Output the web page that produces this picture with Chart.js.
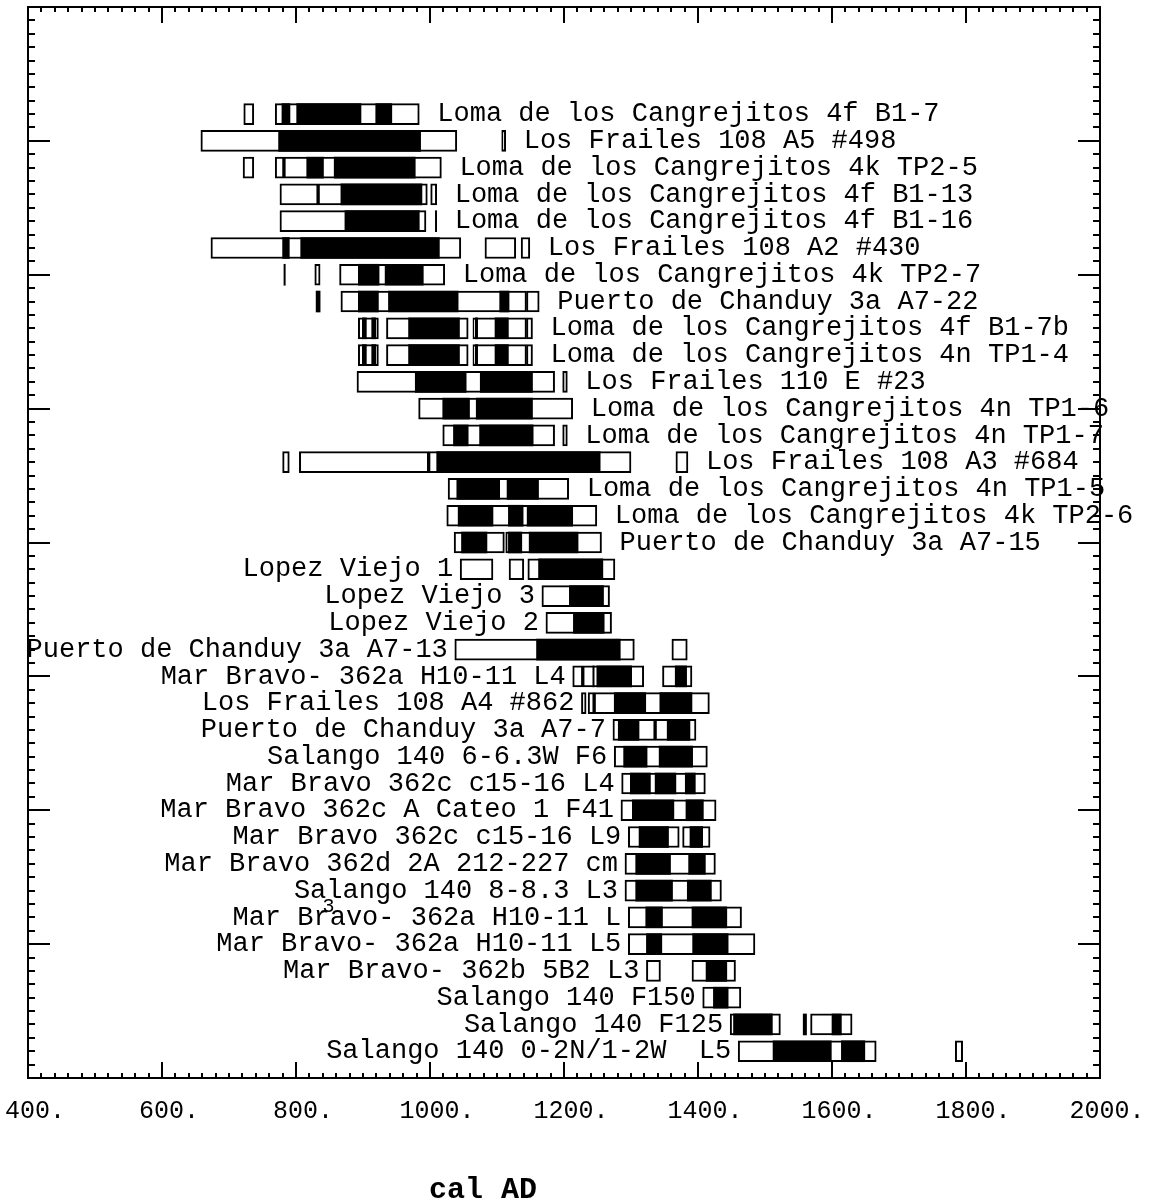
<!DOCTYPE html>
<html>
<head>
<meta charset="utf-8">
<script src="https://cdn.jsdelivr.net/npm/chart.js@4.4.1/dist/chart.umd.min.js"></script>
<style>
  html, body { margin: 0; padding: 0; background: #fff; }
  #wrap { width: 1160px; height: 1201px; position: relative; }
</style>
</head>
<body>
<div id="wrap"><canvas id="dates"></canvas></div>
<script>
// Sample names, top to bottom
const samples = [
    'Loma de los Cangrejitos 4f B1-7',
    'Los Frailes 108 A5 #498',
    'Loma de los Cangrejitos 4k TP2-5',
    'Loma de los Cangrejitos 4f B1-13',
    'Loma de los Cangrejitos 4f B1-16',
    'Los Frailes 108 A2 #430',
    'Loma de los Cangrejitos 4k TP2-7',
    'Puerto de Chanduy 3a A7-22',
    'Loma de los Cangrejitos 4f B1-7b',
    'Loma de los Cangrejitos 4n TP1-4',
    'Los Frailes 110 E #23',
    'Loma de los Cangrejitos 4n TP1-6',
    'Loma de los Cangrejitos 4n TP1-7',
    'Los Frailes 108 A3 #684',
    'Loma de los Cangrejitos 4n TP1-5',
    'Loma de los Cangrejitos 4k TP2-6',
    'Puerto de Chanduy 3a A7-15',
    'Lopez Viejo 1',
    'Lopez Viejo 3',
    'Lopez Viejo 2',
    'Puerto de Chanduy 3a A7-13',
    'Mar Bravo- 362a H10-11 L4',
    'Los Frailes 108 A4 #862',
    'Puerto de Chanduy 3a A7-7',
    'Salango 140 6-6.3W F6',
    'Mar Bravo 362c c15-16 L4',
    'Mar Bravo 362c A Cateo 1 F41',
    'Mar Bravo 362c c15-16 L9',
    'Mar Bravo 362d 2A 212-227 cm',
    'Salango 140 8-8.3 L3',
    'Mar Bravo- 362a H10-11 L',
    'Mar Bravo- 362a H10-11 L5',
    'Mar Bravo- 362b 5B2 L3',
    'Salango 140 F150',
    'Salango 140 F125',
    'Salango 140 0-2N/1-2W  L5'
];

// 2-sigma ranges (open boxes), cal AD
const range2 = [
    [[722, 737], [769, 984]],
    [[658, 1040], [1107, 1113]],
    [[721, 737], [769, 782], [782, 1017]],
    [[776, 833], [833, 996], [1001, 1010]],
    [[776, 994]],
    [[673, 1046], [1082, 1128], [1136, 1149]],
    [[828, 836], [865, 1022]],
    [[867, 1144], [1144, 1163]],
    [[893, 923], [935, 1057], [1064, 1069], [1069, 1144], [1144, 1153]],
    [[893, 923], [935, 1057], [1064, 1069], [1069, 1144], [1144, 1153]],
    [[891, 1186], [1198, 1205]],
    [[983, 1213]],
    [[1019, 1186], [1198, 1205]],
    [[780, 790], [805, 998], [998, 1300], [1367, 1385]],
    [[1027, 1207]],
    [[1025, 1249]],
    [[1036, 1111], [1113, 1256]],
    [[1045, 1094], [1118, 1140], [1146, 1276]],
    [[1167, 1268]],
    [[1173, 1271]],
    [[1037, 1305], [1361, 1384]],
    [[1213, 1228], [1228, 1319], [1347, 1391]],
    [[1226, 1233], [1236, 1245], [1245, 1417]],
    [[1273, 1336], [1336, 1397]],
    [[1275, 1414]],
    [[1286, 1411]],
    [[1285, 1427]],
    [[1296, 1372], [1377, 1418]],
    [[1291, 1426]],
    [[1291, 1435]],
    [[1296, 1465]],
    [[1296, 1485]],
    [[1323, 1344], [1391, 1456]],
    [[1407, 1464]],
    [[1448, 1523], [1568, 1630]],
    [[1460, 1666], [1784, 1795]]
];

// 1-sigma ranges (filled boxes), cal AD
const range1 = [
    [[779, 791], [801, 897], [919, 943]],
    [[774, 986]],
    [[816, 841], [857, 978]],
    [[867, 988]],
    [[873, 984], [1008, 1010]],
    [[780, 790], [807, 1014]],
    [[782, 784], [893, 924], [933, 990]],
    [[830, 836], [893, 923], [938, 1042], [1104, 1118]],
    [[899, 905], [913, 919], [968, 1044], [1068, 1071], [1097, 1117]],
    [[899, 905], [913, 919], [968, 1044], [1068, 1071], [1097, 1117]],
    [[978, 1054], [1075, 1153]],
    [[1019, 1059], [1069, 1153]],
    [[1035, 1057], [1074, 1154]],
    [[1010, 1254]],
    [[1040, 1104], [1115, 1162]],
    [[1042, 1094], [1117, 1139], [1145, 1213]],
    [[1047, 1085], [1117, 1137], [1148, 1221]],
    [[1162, 1258]],
    [[1208, 1259]],
    [[1214, 1260]],
    [[1159, 1284]],
    [[1243, 1245], [1249, 1301], [1366, 1383]],
    [[1275, 1322], [1343, 1391]],
    [[1281, 1312], [1354, 1388]],
    [[1289, 1324], [1342, 1392]],
    [[1299, 1329], [1336, 1367], [1381, 1396]],
    [[1302, 1364], [1382, 1408]],
    [[1312, 1356], [1388, 1407]],
    [[1307, 1359], [1386, 1411]],
    [[1307, 1362], [1384, 1420]],
    [[1322, 1347], [1391, 1443]],
    [[1323, 1346], [1392, 1445]],
    [[1412, 1443]],
    [[1423, 1445]],
    [[1453, 1511], [1557, 1562], [1600, 1614]],
    [[1512, 1599], [1614, 1649]]
];

// Side of the boxes the name is written on
const labelSide = [
    'r', 'r', 'r', 'r', 'r', 'r', 'r', 'r', 'r', 'r', 'r', 'r', 'r', 'r', 'r', 'r', 'r',
    'l', 'l', 'l', 'l', 'l', 'l', 'l', 'l', 'l', 'l', 'l', 'l', 'l', 'l', 'l', 'l', 'l', 'l', 'l'
];

const xMin = 400, xMax = 2000;

// rows sit on every second unit, top row at 72
const rowPos = samples.map((s, i) => 72 - 2 * i);

const openData = [];
const fillData = [];
range2.forEach((list, i) => list.forEach(r => openData.push({ x: r, y: rowPos[i] })));
range1.forEach((list, i) => list.forEach(r => fillData.push({ x: r, y: rowPos[i] })));

// Sample names next to the boxes
const namesPlugin = {
    id: 'names',
    afterDatasetsDraw(chart) {
        const { ctx, scales: { x, y } } = chart;
        ctx.save();
        ctx.fillStyle = '#000';
        ctx.textBaseline = 'middle';
        ctx.font = '27px "Liberation Mono", monospace';
        samples.forEach((name, i) => {
            const all = range2[i].concat(range1[i]);
            const py = y.getPixelForValue(rowPos[i]);
            if (labelSide[i] === 'r') {
                const end = Math.max(...all.map(r => r[1]));
                ctx.textAlign = 'left';
                ctx.fillText(name, x.getPixelForValue(end) + 18, py);
            } else {
                const start = Math.min(...all.map(r => r[0]));
                const px = x.getPixelForValue(start) - 7;
                ctx.textAlign = 'right';
                ctx.fillText(name, px, py);
                if (i === 30) {
                    // stray superscript left over in the original
                    const w = ctx.measureText(name).width;
                    ctx.save();
                    ctx.font = '20px "Liberation Mono", monospace';
                    ctx.textAlign = 'left';
                    ctx.fillText('3', px - w + 90, py - 11);
                    ctx.restore();
                }
            }
        });
        ctx.restore();
    }
};

// Box frame with inward ticks on all four sides
const framePlugin = {
    id: 'frame',
    afterDraw(chart) {
        const { ctx, chartArea: a, scales: { x, y } } = chart;
        ctx.save();
        ctx.strokeStyle = '#000';
        ctx.lineWidth = 2;
        ctx.strokeRect(a.left, a.top, a.right - a.left, a.bottom - a.top);
        ctx.beginPath();
        x.ticks.forEach(t => {
            const px = Math.round(x.getPixelForValue(t.value));
            const len = t.value % 200 === 0 ? 16 : 5;
            ctx.moveTo(px, a.bottom); ctx.lineTo(px, a.bottom - len);
            ctx.moveTo(px, a.top); ctx.lineTo(px, a.top + len);
        });
        y.ticks.forEach(t => {
            const py = Math.round(y.getPixelForValue(t.value));
            const len = t.value % 10 === 0 ? 22 : 7;
            ctx.moveTo(a.left, py); ctx.lineTo(a.left + len, py);
            ctx.moveTo(a.right, py); ctx.lineTo(a.right - len, py);
        });
        ctx.stroke();
        ctx.restore();
    }
};

const datesChart = new Chart(document.getElementById('dates').getContext('2d'), {
    type: 'bar',
    data: {
        datasets: [
            {
                label: '1 sigma',
                data: fillData,
                backgroundColor: '#000',
                borderWidth: 0,
                order: 0
            },
            {
                label: '2 sigma',
                data: openData,
                backgroundColor: '#fff',
                borderColor: '#000',
                borderWidth: 2,
                borderSkipped: false,
                order: 1
            }
        ]
    },
    options: {
        indexAxis: 'y',
        responsive: true,
        maintainAspectRatio: false,
        animation: false,
        datasets: { bar: { barThickness: 21, grouped: false } },
        layout: { padding: { top: 7, right: 60, left: 0, bottom: 0 } },
        scales: {
            x: {
                type: 'linear',
                position: 'bottom',
                min: xMin,
                max: xMax,
                offset: false,
                grid: { display: false, drawTicks: false },
                border: { display: false },
                ticks: {
                    stepSize: 20,
                    autoSkip: false,
                    maxRotation: 0,
                    padding: 18,
                    labelOffset: 7,
                    color: '#000',
                    font: { family: '"Liberation Mono", monospace', size: 25 },
                    callback: v => v % 200 === 0 ? v + '.' : ''
                },
                title: {
                    display: true,
                    text: 'cal AD         ',
                    color: '#000',
                    padding: { top: 0, bottom: 0 },
                    font: { family: '"Liberation Mono", monospace', size: 30, weight: 'bold', lineHeight: 0.7 }
                },
                afterFit: s => {
                    s.height = 123;
                    s.paddingLeft = 0;
                    s.paddingRight = 0;
                }
            },
            y: {
                type: 'linear',
                min: 0,
                max: 80,
                offset: false,
                grid: { display: false, drawTicks: false },
                border: { display: false },
                ticks: { display: false, stepSize: 1, autoSkip: false },
                afterFit: s => { s.width = 28; }
            }
        },
        plugins: {
            legend: { display: false },
            tooltip: { enabled: false }
        }
    },
    plugins: [namesPlugin, framePlugin]
});
</script>
</body>
</html>
